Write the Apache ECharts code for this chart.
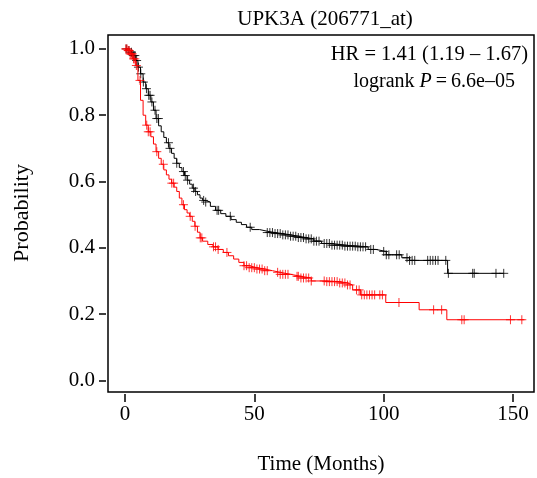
<!DOCTYPE html>
<html>
<head>
<meta charset="utf-8">
<script src="https://cdn.jsdelivr.net/npm/echarts@6.0.0/dist/echarts.min.js"></script>
<style>
html,body{margin:0;padding:0;background:#fff;}
#c{width:537px;height:478px;}
</style>
</head>
<body>
<div id="c"></div>
<script>
// ---- data ----
var xTicks = [0, 50, 100, 150];
var yTicks = [0, 0.2, 0.4, 0.6, 0.8, 1.0];

// low expression group (black): step times and survival after the step
var blackT = [0,1,2,3,4,5,6,7,8,9,10,11,12,13,14,15,16,17,18,19,20,21,22,23,24,25,26,27,28,29,30,31,33,35,37,39,41,43,45,47,49,52,55,58,61,64,67,70,73,76,80,85,90,94,97,101,107,110,124.7,146.4];
var blackS = [1,0.995,0.99,0.98,0.965,0.945,0.925,0.9,0.88,0.86,0.84,0.815,0.79,0.768,0.75,0.733,0.717,0.70,0.685,0.67,0.655,0.642,0.63,0.618,0.604,0.592,0.58,0.57,0.56,0.55,0.543,0.538,0.525,0.513,0.503,0.495,0.485,0.477,0.47,0.462,0.455,0.45,0.446,0.443,0.439,0.435,0.431,0.427,0.42,0.413,0.408,0.405,0.403,0.395,0.389,0.379,0.37,0.362,0.323,0.323];
var blackCensor = [0.5,1.5,2.5,3.2,3.8,4.5,5.2,6.1,7.1,8.3,9.2,9.7,10.4,11.6,12.3,12.9,16.8,17.4,20,22.6,23.3,24.2,26.5,27.3,30.4,31.2,35.6,36.2,40.7,48.4,55,56,57,58,59,60,61,62,63,64,65,66,67,68,69,70,71,72,73,74,75,77,78,79,80,81,82,83,84,85,86,87,88,89,90,91,92,93,95,96,100,101,102,105,106,109,110,111,112,117,118,119,120,121,124,125,134.4,135,143.4,146.4];

// high expression group (red)
var redT = [0,1,2,3,4,5,6,7,8,9,10,11,12,13,14,15,16,17,18,19,20,21,22,23,24,25,26,27,28,29,30,32,34,36,38,40,42,44,46,48,51,54,57,60,64,68,72,78,83,86,88,91,100.8,113.7,124.4,154.4];
var redS = [1,0.995,0.985,0.97,0.95,0.905,0.845,0.80,0.77,0.75,0.735,0.713,0.69,0.67,0.652,0.635,0.62,0.607,0.595,0.583,0.57,0.55,0.53,0.515,0.505,0.495,0.48,0.465,0.447,0.43,0.42,0.41,0.403,0.395,0.386,0.376,0.366,0.356,0.346,0.34,0.336,0.331,0.326,0.32,0.314,0.309,0.30,0.298,0.294,0.288,0.273,0.258,0.235,0.213,0.183,0.183];
var redCensor = [0.3,0.8,1.2,1.6,2,2.4,2.8,3.3,3.8,4.4,5.8,8.4,9,9.7,12.3,14.8,18.1,18.8,22.6,25.2,27.1,29.1,29.7,34.2,35,36,39.4,46,47,48,49,50,51,52,53,54,55,59,60,61,62,63,66.5,67,68,69,70,71,72,77,78,79,80,81,82,83,84,85,86,87,89.5,90.5,91.5,92.5,93.5,94.5,95.5,96.5,98.5,99.5,105.9,119.3,122.4,130.2,131.1,149,153.4];

var titleText = 'UPK3A (206771_at)';
var hrText = 'HR = 1.41 (1.19 \u2013 1.67)';
var xName = 'Time (Months)';
var yName = 'Probability';

// ---- helpers ----
function pairs(T, S) { return T.map(function (t, i) { return [t, S[i]]; }); }
function survAt(T, S, t) {
  var v = S[0];
  for (var i = 0; i < T.length; i++) { if (T[i] <= t) v = S[i]; else break; }
  return v;
}
function censorPts(T, S, C) { return C.map(function (t) { return [t, survAt(T, S, t)]; }); }

var FONT = 'Liberation Serif';
var plus = 'path://M0,5L10,5M5,0L5,10';

var chart = echarts.init(document.getElementById('c'), null, {renderer: 'canvas'});
chart.setOption({
  backgroundColor: '#fff',
  animation: false,
  title: {
    text: titleText, left: 320, top: 4, textAlign: 'center',
    textStyle: {fontFamily: FONT, fontSize: 21, fontWeight: 'normal', color: '#000'}
  },
  grid: {left: 108, right: 3, top: 35, bottom: 86, show: true, borderColor: '#000', borderWidth: 1.5, backgroundColor: 'transparent'},
  xAxis: {
    type: 'value', min: -6.57, max: 158.1, offset: 2,
    axisLine: {show: false, onZero: false},
    splitLine: {show: false},
    axisTick: {show: true, length: 8, customValues: xTicks, lineStyle: {color: '#000', width: 1.5}},
    axisLabel: {customValues: xTicks, margin: 10, fontFamily: FONT, fontSize: 21, color: '#000'}
  },
  yAxis: {
    type: 'value', min: -0.035, max: 1.042, offset: 2,
    axisLine: {show: false, onZero: false},
    splitLine: {show: false},
    axisTick: {show: true, length: 7, customValues: yTicks, lineStyle: {color: '#000', width: 1.5}},
    axisLabel: {customValues: yTicks, margin: 11, fontFamily: FONT, fontSize: 21, color: '#000',
      formatter: function (v) { return v.toFixed(1); }}
  },
  graphic: [
    {type: 'text', x: 22, y: 213, rotation: Math.PI / 2,
      style: {text: yName, font: '22px "Liberation Serif"', fill: '#000', align: 'center', verticalAlign: 'middle'}},
    {type: 'text', x: 321, y: 464,
      style: {text: xName, font: '21px "Liberation Serif"', fill: '#000', align: 'center', verticalAlign: 'middle'}},
    {type: 'text', x: 528, y: 55,
      style: {text: hrText, font: '20.5px "Liberation Serif"', fill: '#000', align: 'right', verticalAlign: 'middle'}},
    {type: 'text', x: 515, y: 82,
      style: {text: 'logrank {i|P}\u2009=\u20096.6e\u201305', font: '20px "Liberation Serif"', fill: '#000', align: 'right', verticalAlign: 'middle',
        rich: {i: {fontStyle: 'italic', fontFamily: FONT, fontSize: 20}}}}
  ],
  series: [
    {type: 'line', step: 'end', data: pairs(blackT, blackS), showSymbol: false, silent: true,
      lineStyle: {color: '#000', width: 1}, z: 2},
    {type: 'scatter', data: censorPts(blackT, blackS, blackCensor), symbol: plus, symbolSize: 9, silent: true,
      itemStyle: {color: 'transparent', borderColor: '#000', borderWidth: 1}, z: 3},
    {type: 'line', step: 'end', data: pairs(redT, redS), showSymbol: false, silent: true,
      lineStyle: {color: '#ff0000', width: 1}, z: 4},
    {type: 'scatter', data: censorPts(redT, redS, redCensor), symbol: plus, symbolSize: 9, silent: true,
      itemStyle: {color: 'transparent', borderColor: '#ff0000', borderWidth: 1}, z: 5}
  ]
});
</script>
</body>
</html>
